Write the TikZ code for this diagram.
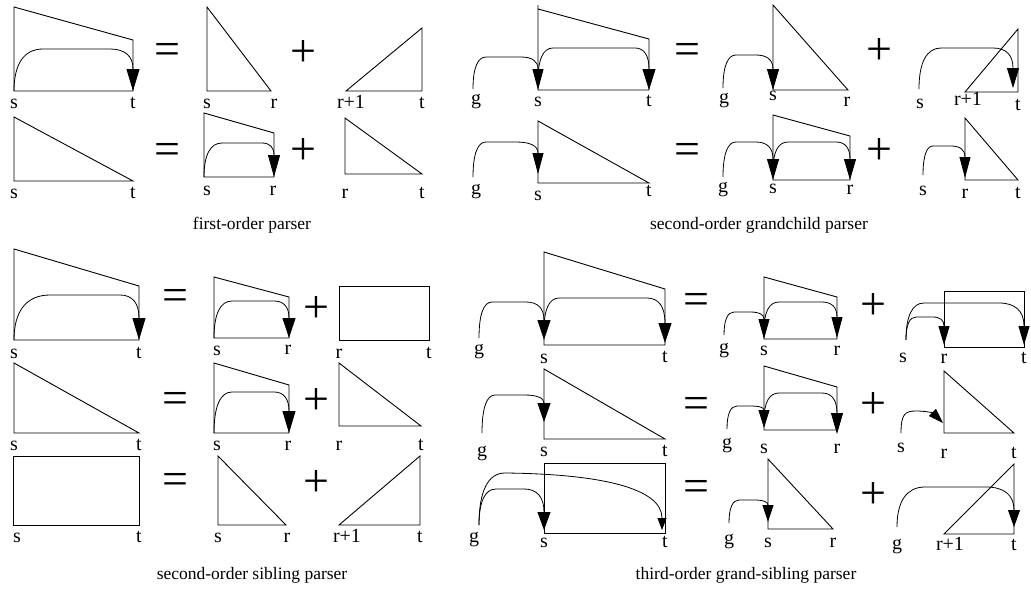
\documentclass[tikz,border=0pt]{standalone}
\usepackage{fontspec}
\setmainfont{Liberation Serif}
\usetikzlibrary{arrows.meta}
\tikzset{
 shp/.style={draw=black, line width=0.9pt, line join=miter},
 arcline/.style={draw=black, line width=0.8pt},
 harrow/.style 2 args={-{Triangle[length=#1,width=#2]}},
 lab/.style={anchor=base, inner sep=0pt, font=\fontsize{20}{20}\selectfont},
 sym/.style={anchor=base, inner sep=0pt, font=\fontsize{46}{46}\selectfont},
 captxt/.style={anchor=base, inner sep=0pt, font=\fontsize{17.5}{18}\selectfont},
}
% arc: [arrow] x1 y1 ytop x2 ytip rl rr L
\newcommand\darc[9][]{%
 \draw[arcline,#1] (#2,#3) .. controls (#2,{#3+0.65*(#4-#3)}) and ({#2+0.35*#7},#4) .. ({#2+#7},#4) -- ({#5-#8},#4) .. controls ({#5-0.35*#8},#4) and (#5,{#6-#9+0.65*(#4-#6+#9)}) .. (#5,{#6-#9}) -- (#5,#6);}
\newcommand\lb[4]{\node[lab] (#1) at (#2,#3) {#4};}
\newcommand\eqs[3]{\node[sym] (#1) at (#2,{#3+11.6}) {=};}
\newcommand\pls[3]{\node[sym] (#1) at (#2,{#3+11.6}) {+};}
\begin{document}
\begin{tikzpicture}[x=1pt,y=-1pt]
\useasboundingbox (0,0) rectangle (1031,589);
% ---------- first-order ----------
\draw[shp] (14,7) -- (14,91) -- (133,91) -- (133,40) -- cycle;
\darc[harrow={22pt}{13pt}]{14}{91}{49}{133}{91}{29}{23}{22}
\lb{a1s}{14}{108}{s} \lb{a1t}{133}{108}{t}
\eqs{a1eq}{167}{53}
\draw[shp] (207,7) -- (207,91) -- (271,91) -- cycle;
\lb{a1s2}{207}{108}{s} \lb{a1r}{274}{108}{r}
\pls{a1pl}{303}{55}
\draw[shp] (346,91) -- (422,91) -- (422,28) -- cycle;
\lb{a1r1}{351}{108}{r+1} \lb{a1t2}{422}{108}{t}
\draw[shp] (14,117) -- (14,181) -- (133,181) -- cycle;
\lb{a2s}{14}{198}{s} \lb{a2t}{133}{198}{t}
\eqs{a2eq}{167}{153}
\draw[shp] (204,113) -- (204,177) -- (274,177) -- (274,133) -- cycle;
\darc[harrow={22pt}{12pt}]{204}{177}{143}{274}{177}{18}{12}{22}
\lb{a2s2}{207}{195}{s} \lb{a2r}{273}{195}{r}
\pls{a2pl}{303}{153}
\draw[shp] (345,118) -- (345,174) -- (422,174) -- cycle;
\lb{a2r2}{345}{198}{r} \lb{a2t2}{422}{198}{t}
\node[captxt] (cap1) at (252,229) {first-order parser};
% ---------- second-order grandchild ----------
\draw[shp] (538,9) -- (649,39) -- (649,90) -- (538,90) -- (538,5);
\darc[harrow={21pt}{11pt}]{473}{89}{57}{538}{90}{13}{17}{21}
\darc[harrow={21pt}{13pt}]{538}{80}{48}{649}{90}{15}{14}{21}
\lb{b1g}{476}{104}{g} \lb{b1s}{538}{106}{s} \lb{b1t}{649}{106}{t}
\eqs{b1eq}{687}{53}
\draw[shp] (773,5) -- (773,90) -- (848,90) -- cycle;
\darc[harrow={21pt}{12pt}]{723}{88}{55}{773}{90}{13}{17}{21}
\lb{b1g2}{724}{103}{g} \lb{b1s2}{773}{100}{s} \lb{b1r}{847}{106}{r}
\pls{b1pl}{879}{53}
\draw[shp] (965,92) -- (1018,92) -- (1018,29) -- cycle;
\darc[harrow={20pt}{12pt}]{919}{89}{48}{1013}{88}{22}{20}{20}
\lb{b1s3}{920}{108}{s} \lb{b1r1}{968}{105}{r+1} \lb{b1t2}{1018}{110}{t}
\draw[shp] (538,121) -- (538,183) -- (649,183) -- cycle;
\darc[harrow={21pt}{11pt}]{473}{177}{142}{538}{174}{13}{22}{21}
\lb{b2g}{476}{194}{g} \lb{b2s}{538}{200}{s} \lb{b2t}{649}{196}{t}
\eqs{b2eq}{687}{153}
\draw[shp] (773,115) -- (773,180) -- (850,180) -- (850,136) -- cycle;
\darc[harrow={21pt}{12pt}]{723}{177}{142}{773}{180}{13}{17}{21}
\darc[harrow={21pt}{12pt}]{773}{170}{142}{850}{180}{15}{14}{21}
\lb{b2g2}{723}{192}{g} \lb{b2s2}{773}{193}{s} \lb{b2r}{850}{194}{r}
\pls{b2pl}{879}{153}
\draw[shp] (965,118) -- (965,180) -- (1018,180) -- cycle;
\darc[harrow={21pt}{11pt}]{923}{175}{146}{965}{178}{10}{14}{21}
\lb{b2s3}{923}{195}{s} \lb{b2r2}{965}{198}{r} \lb{b2t2}{1018}{198}{t}
\node[captxt] (cap2) at (759,229) {second-order grandchild parser};
% ---------- second-order sibling ----------
\draw[shp] (14,249) -- (14,340) -- (139,340) -- (139,286) -- cycle;
\darc[harrow={22pt}{13pt}]{14}{340}{295}{139}{340}{36}{19}{22}
\lb{c1s}{14}{358}{s} \lb{c1t}{139}{358}{t}
\eqs{c1eq}{175}{299}
\draw[shp] (214,277) -- (214,338) -- (289,338) -- (289,297) -- cycle;
\darc[harrow={20pt}{13pt}]{214}{338}{301}{289}{338}{18}{15}{20}
\lb{c1s2}{217}{355}{s} \lb{c1r}{288}{354}{r}
\pls{c1pl}{316}{311}
\draw[shp] (339,286) rectangle (429,340);
\lb{c1r2}{339}{358}{r} \lb{c1t2}{429}{358}{t}
\draw[shp] (14,363) -- (14,433) -- (139,433) -- cycle;
\lb{c2s}{14}{450}{s} \lb{c2t}{139}{450}{t}
\eqs{c2eq}{175}{402}
\draw[shp] (214,363) -- (214,433) -- (289,433) -- (289,385) -- cycle;
\darc[harrow={22pt}{13pt}]{214}{433}{392}{289}{433}{18}{15}{22}
\lb{c2s2}{217}{450}{s} \lb{c2r}{288}{450}{r}
\pls{c2pl}{316}{403}
\draw[shp] (339,363) -- (339,426) -- (421,426) -- cycle;
\lb{c2r2}{339}{450}{r} \lb{c2t2}{421}{450}{t}
\draw[shp] (13,456) rectangle (139,525);
\lb{c3s}{17}{542}{s} \lb{c3t}{139}{542}{t}
\eqs{c3eq}{175}{483}
\draw[shp] (218,456) -- (218,525) -- (286,525) -- cycle;
\lb{c3s2}{218}{542}{s} \lb{c3r}{287}{542}{r}
\pls{c3pl}{316}{485}
\draw[shp] (339,525) -- (420,525) -- (420,456) -- cycle;
\lb{c3r1}{347}{542}{r+1} \lb{c3t2}{420}{542}{t}
\node[captxt] (cap3) at (252,579) {second-order sibling parser};
% ---------- third-order grand-sibling ----------
\draw[shp] (544,252) -- (665,289) -- (665,345) -- (544,345) -- cycle;
\darc[harrow={20pt}{13pt}]{479}{338}{302}{544}{340}{13}{18}{20}
\darc[harrow={20pt}{13pt}]{544}{330}{298}{665}{343}{15}{18}{20}
\lb{d1g}{479}{354}{g} \lb{d1s}{544}{363}{s} \lb{d1t}{665}{362}{t}
\eqs{d1eq}{696}{303}
\draw[shp] (764,277) -- (764,339) -- (837,339) -- (837,297) -- cycle;
\darc[harrow={20pt}{11pt}]{724}{335}{312}{764}{339}{10}{14}{20}
\darc[harrow={21pt}{11pt}]{764}{330}{302}{837}{338}{15}{15}{21}
\lb{d1g2}{724}{353}{g} \lb{d1s2}{764}{355}{s} \lb{d1r}{837}{355}{r}
\pls{d1pl}{873}{308}
\draw[shp] (944,291) rectangle (1024,347);
\darc[harrow={19pt}{11pt}]{906}{340}{317}{944}{345}{10}{11}{19}
\darc[harrow={19pt}{11pt}]{906}{340}{303}{1024}{345}{18}{25}{19}
\lb{d1s3}{903}{362}{s} \lb{d1r2}{944}{363}{r} \lb{d1t2}{1024}{363}{t}
\draw[shp] (544,369) -- (544,439) -- (665,439) -- cycle;
\darc[harrow={19pt}{13pt}]{482}{433}{395}{544}{422}{13}{20}{19}
\lb{d2g}{482}{456}{g} \lb{d2s}{544}{456}{s} \lb{d2t}{665}{456}{t}
\eqs{d2eq}{696}{407}
\draw[shp] (764,366) -- (764,430) -- (837,430) -- (837,387) -- cycle;
\darc[harrow={18pt}{11pt}]{727}{429}{406}{764}{428}{10}{14}{18}
\darc[harrow={21pt}{12pt}]{764}{420}{393}{837}{434}{15}{15}{21}
\lb{d2g2}{727}{448}{g} \lb{d2s2}{764}{453}{s} \lb{d2r}{837}{453}{r}
\pls{d2pl}{873}{407}
\draw[shp] (944,371) -- (944,433) -- (1014,433) -- cycle;
\draw[arcline,harrow={15pt}{10pt}] (901,433) .. controls (901,414) and (905,411) .. (916,411) .. controls (926,411) and (933,413) .. (943,423);
\lb{d2s3}{901}{452}{s} \lb{d2r2}{944}{458}{r} \lb{d2t2}{1014}{458}{t}
\draw[shp] (544,463) rectangle (665,533);
\darc[harrow={18pt}{13pt}]{479}{525}{489}{544}{530}{17}{20}{18}
\draw[arcline,harrow={12pt}{9pt}] (479,525) .. controls (479,491) and (488,473) .. (505,473) .. controls (600,474) and (662,488) .. (662,518) -- (662,530);
\lb{d3g}{474}{542}{g} \lb{d3s}{544}{547}{s} \lb{d3t}{665}{547}{t}
\eqs{d3eq}{696}{490}
\draw[shp] (768,459) -- (768,529) -- (833,529) -- cycle;
\darc[harrow={17pt}{11pt}]{729}{523}{500}{768}{522}{10}{14}{17}
\lb{d3g2}{729}{544}{g} \lb{d3s2}{768}{547}{s} \lb{d3r}{833}{547}{r}
\pls{d3pl}{873}{497}
\draw[shp] (944,534) -- (1014,534) -- (1014,464) -- cycle;
\darc[harrow={17pt}{12pt}]{897}{527}{487}{1014}{527}{28}{28}{17}
\lb{d3g3}{897}{549}{g} \lb{d3r1}{950}{550}{r+1} \lb{d3t2}{1014}{550}{t}
\node[captxt] (cap4) at (746,579) {third-order grand-sibling parser};
\end{tikzpicture}
\end{document}
